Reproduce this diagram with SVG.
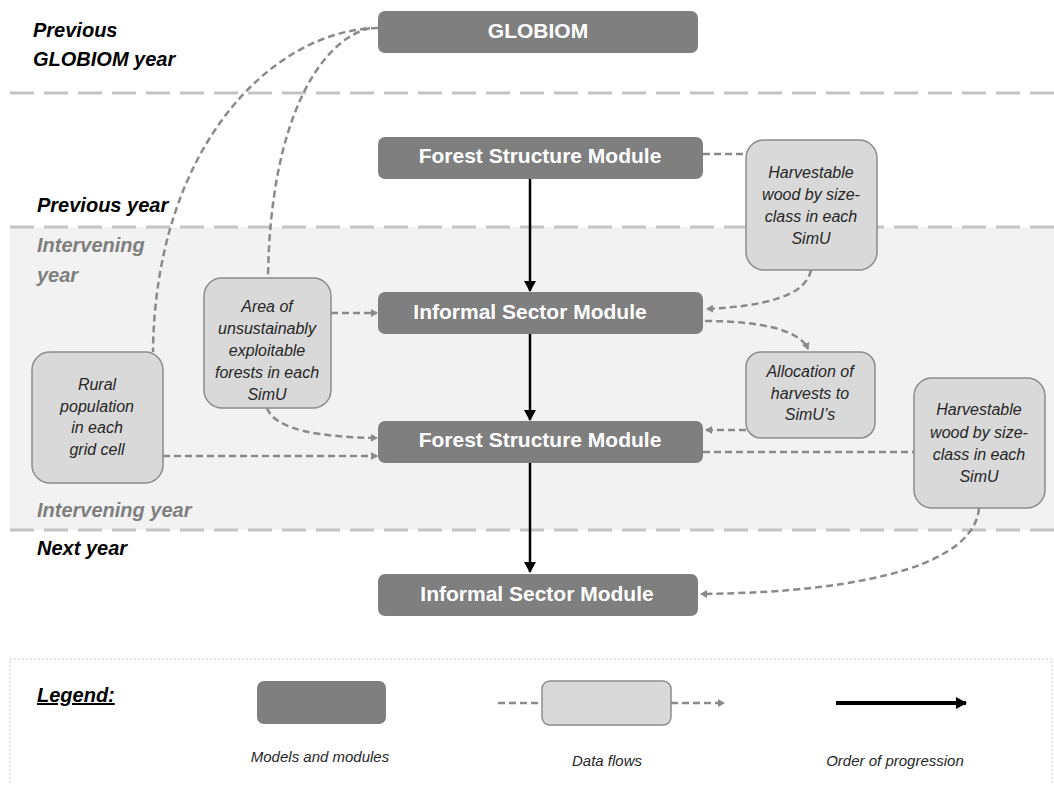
<svg xmlns="http://www.w3.org/2000/svg" width="1054" height="785" viewBox="0 0 1054 785">
<style>
.module{fill:#7f7f7f}
.mtext{font-family:"Liberation Sans",Arial,sans-serif;font-weight:bold;font-size:21px;fill:#ffffff;text-anchor:middle}
.data{fill:#d9d9d9;stroke:#8c8c8c;stroke-width:1.5}
.dtext{font-family:"Liberation Sans",Arial,sans-serif;font-style:italic;font-size:16px;fill:#262626;text-anchor:middle}
.sep{stroke:#c4c4c4;stroke-width:3;stroke-dasharray:24 10;fill:none}
.year{font-family:"Liberation Sans",Arial,sans-serif;font-weight:bold;font-style:italic;font-size:20px;fill:#000}
.yeargray{font-family:"Liberation Sans",Arial,sans-serif;font-weight:bold;font-style:italic;font-size:20px;fill:#7f7f7f}
.flow{stroke:#8a8a8a;stroke-width:2.5;stroke-dasharray:7 4;fill:none}
.prog{stroke:#000;stroke-width:2.5;fill:none}
.ltext{font-family:"Liberation Sans",Arial,sans-serif;font-style:italic;font-size:15px;fill:#262626;text-anchor:middle}
</style>
<defs>
<marker id="ah" markerWidth="8" markerHeight="8" refX="6" refY="4" orient="auto" markerUnits="userSpaceOnUse">
<path d="M0,0 L7,4 L0,8 Z" fill="#8a8a8a"/>
</marker>
<marker id="bh" markerWidth="12" markerHeight="12" refX="10" refY="6" orient="auto" markerUnits="userSpaceOnUse">
<path d="M0,0 L11,6 L0,12 Z" fill="#000"/>
</marker>
</defs>
<rect x="0" y="0" width="1054" height="785" fill="#ffffff"/>
<rect x="10" y="227" width="1044" height="303" fill="#f2f2f2"/>
<g id="separators">
<line class="sep" x1="10" y1="93" x2="1054" y2="93"/>
<line class="sep" x1="10" y1="227" x2="1054" y2="227"/>
<line class="sep" x1="10" y1="530" x2="1054" y2="530"/>
</g>
<g id="year-labels">
<text class="year" x="33" y="37">Previous</text>
<text class="year" x="33" y="66">GLOBIOM year</text>
<text class="year" x="37" y="212">Previous year</text>
<text class="yeargray" x="37" y="252">Intervening</text>
<text class="yeargray" x="37" y="282">year</text>
<text class="yeargray" x="37" y="517">Intervening year</text>
<text class="year" x="37" y="555">Next year</text>
</g>
<g id="connectors">
<path class="flow" d="M378,28 C270,30 155,150 153,352"/>
<path class="flow" d="M370,28 C320,40 270,120 268,278"/>
<path class="flow" d="M703,154 L746,154"/>
<path class="flow" d="M811,270 C806,296 765,306 707,309" marker-end="url(#ah)"/>
<path class="flow" d="M705,321 C760,321 800,330 808,349" marker-end="url(#ah)"/>
<path class="flow" d="M746,430 L706,430" marker-end="url(#ah)"/>
<path class="flow" d="M703,452 L914,452"/>
<path class="flow" d="M979,508 C975,560 880,592 701,594" marker-end="url(#ah)"/>
<path class="flow" d="M331,313 L377,313" marker-end="url(#ah)"/>
<path class="flow" d="M267,408 C275,430 320,437 377,438" marker-end="url(#ah)"/>
<path class="flow" d="M163,456 L377,456" marker-end="url(#ah)"/>
<path class="prog" d="M530,179 L530,291" marker-end="url(#bh)"/>
<path class="prog" d="M530,334 L530,420" marker-end="url(#bh)"/>
<path class="prog" d="M530,463 L530,572" marker-end="url(#bh)"/>
</g>
<g id="globiom">
<rect class="module" x="378" y="11" width="320" height="42" rx="7"/>
<text class="mtext" x="538" y="38">GLOBIOM</text>
</g>
<g id="forest-structure-1">
<rect class="module" x="378" y="137" width="325" height="42" rx="7"/>
<text class="mtext" x="540" y="163">Forest Structure Module</text>
</g>
<g id="informal-sector-1">
<rect class="module" x="378" y="292" width="325" height="42" rx="7"/>
<text class="mtext" x="530" y="319">Informal Sector Module</text>
</g>
<g id="forest-structure-2">
<rect class="module" x="378" y="421" width="325" height="42" rx="7"/>
<text class="mtext" x="540" y="447">Forest Structure Module</text>
</g>
<g id="informal-sector-2">
<rect class="module" x="378" y="574" width="320" height="42" rx="7"/>
<text class="mtext" x="537" y="601">Informal Sector Module</text>
</g>
<g id="harvestable-1">
<rect class="data" x="746" y="140" width="131" height="130" rx="18"/>
<text class="dtext" x="811" y="178">Harvestable</text>
<text class="dtext" x="811" y="200">wood by size-</text>
<text class="dtext" x="811" y="222">class in each</text>
<text class="dtext" x="811" y="244">SimU</text>
</g>
<g id="allocation">
<rect class="data" x="746" y="352" width="129" height="86" rx="15"/>
<text class="dtext" x="810" y="377">Allocation of</text>
<text class="dtext" x="810" y="399">harvests to</text>
<text class="dtext" x="810" y="420">SimU’s</text>
</g>
<g id="harvestable-2">
<rect class="data" x="914" y="378" width="131" height="130" rx="18"/>
<text class="dtext" x="979" y="415">Harvestable</text>
<text class="dtext" x="979" y="438">wood by size-</text>
<text class="dtext" x="979" y="460">class in each</text>
<text class="dtext" x="979" y="482">SimU</text>
</g>
<g id="area-unsustainable">
<rect class="data" x="204" y="278" width="127" height="130" rx="18"/>
<text class="dtext" x="267" y="312">Area of</text>
<text class="dtext" x="267" y="334">unsustainably</text>
<text class="dtext" x="267" y="356">exploitable</text>
<text class="dtext" x="267" y="378">forests in each</text>
<text class="dtext" x="267" y="400">SimU</text>
</g>
<g id="rural-population">
<rect class="data" x="32" y="352" width="131" height="131" rx="18"/>
<text class="dtext" x="97" y="390">Rural</text>
<text class="dtext" x="97" y="412">population</text>
<text class="dtext" x="97" y="433">in each</text>
<text class="dtext" x="97" y="455">grid cell</text>
</g>
<g id="legend">
<rect x="10" y="659" width="1042" height="140" fill="none" stroke="#c8c8c8" stroke-width="1" stroke-dasharray="2 2"/>
<text class="year" x="37" y="702" text-decoration="underline">Legend:</text>
<rect class="module" x="257" y="681" width="129" height="43" rx="7"/>
<path class="flow" d="M498,703 L542,703"/>
<rect class="data" x="542" y="681" width="129" height="44" rx="8"/>
<path class="flow" d="M671,703 L724,703" marker-end="url(#ah)"/>
<path d="M836,703 L966,703" stroke="#000" stroke-width="4" fill="none" marker-end="url(#bh)"/>
<text class="ltext" x="320" y="762">Models and modules</text>
<text class="ltext" x="607" y="766">Data flows</text>
<text class="ltext" x="895" y="766">Order of progression</text>
</g>
</svg>
